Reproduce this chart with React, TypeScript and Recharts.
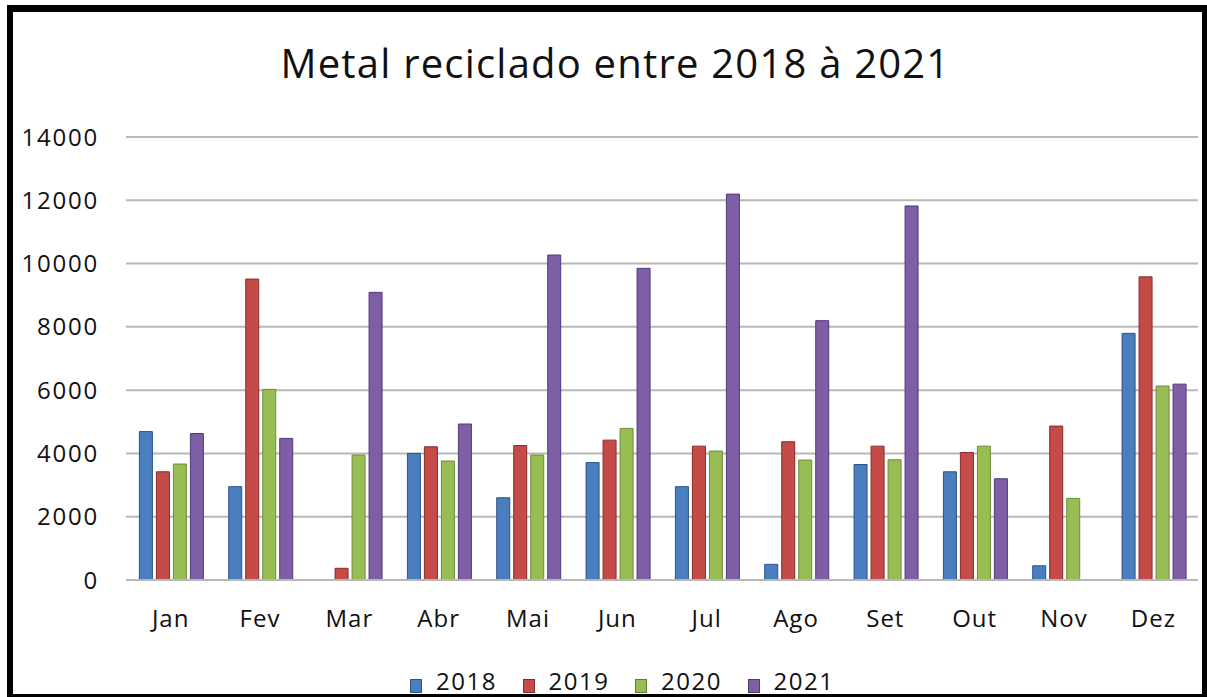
import React from "react";
import { BarChart, Bar, XAxis, YAxis, CartesianGrid, Legend } from "recharts";

const months = ["Jan", "Fev", "Mar", "Abr", "Mai", "Jun", "Jul", "Ago", "Set", "Out", "Nov", "Dez"];
const y2018 = [4690, 2950, 0, 4000, 2600, 3710, 2950, 495, 3650, 3420, 450, 7795];
const y2019 = [3420, 9510, 370, 4210, 4250, 4420, 4230, 4370, 4230, 4030, 4865, 9580];
const y2020 = [3665, 6025, 3950, 3760, 3950, 4790, 4075, 3790, 3800, 4230, 2580, 6130];
const y2021 = [4630, 4475, 9090, 4930, 10270, 9850, 12195, 8195, 11820, 3200, 0, 6190];
const yTicks = [0, 2000, 4000, 6000, 8000, 10000, 12000, 14000];
const title = "Metal reciclado entre 2018 à 2021";

const series = [
  { key: "2018", fill: "#4a7ebf", stroke: "#2b5587" },
  { key: "2019", fill: "#c44b47", stroke: "#8a2b28" },
  { key: "2020", fill: "#98bd55", stroke: "#6f8d3a" },
  { key: "2021", fill: "#7e5fa6", stroke: "#52387a" },
];

const data = months.map((m, i) => ({
  month: m,
  "2018": y2018[i],
  "2019": y2019[i],
  "2020": y2020[i],
  "2021": y2021[i],
}));

const FONT = "'Open Sans', sans-serif";

const renderLegend = (props: any) => {
  const payload = props.payload || [];
  return (
    <div style={{ position: "relative", height: 30, width: 1207 }}>
      {payload.map((p: any, i: number) => (
        <div
          key={p.value}
          style={{
            position: "absolute",
            left: 410 + i * 112.5,
            top: 0,
            display: "flex",
            alignItems: "center",
            height: 30,
          }}
        >
          <div style={{ width: 12, height: 14, background: p.color, border: "1px solid rgba(0,0,0,0.35)", boxSizing: "border-box", marginTop: 10 }} />
          <span style={{ marginLeft: 14, fontFamily: FONT, fontSize: 24, color: "#111", letterSpacing: 1.5, lineHeight: "30px" }}>{p.value}</span>
        </div>
      ))}
    </div>
  );
};

export default function App() {
  return (
    <div style={{ position: "absolute", left: 0, top: 0, width: 1207, height: 697, background: "#fff", overflow: "hidden", fontFamily: FONT }}>
      <BarChart
        width={1207}
        height={697}
        data={data}
        margin={{ top: 137, right: 9, left: 0, bottom: 47 }}
        barCategoryGap="15%"
        barGap={4}
      >
        <CartesianGrid horizontal vertical={false} stroke="#b8b8b8" strokeWidth={2} />
        <XAxis
          dataKey="month"
          height={40}
          tickLine={false}
          tickSize={0}
          tickMargin={30}
          axisLine={{ stroke: "#b8b8b8", strokeWidth: 2 }}
          tick={{ fill: "#111", fontSize: 24, fontFamily: FONT, letterSpacing: 1 }}
        />
        <YAxis
          width={126}
          domain={[0, 14000]}
          ticks={yTicks}
          interval={0}
          tickLine={false}
          tickSize={0}
          tickMargin={27}
          axisLine={false}
          tick={{ fill: "#111", fontSize: 24, fontFamily: FONT, letterSpacing: 1.8 }}
        />
        <Legend
          verticalAlign="bottom"
          content={renderLegend}
          wrapperStyle={{ top: 666, left: 0, height: 30, width: 1207 }}
        />
        {series.map((s) => (
          <Bar key={s.key} dataKey={s.key} fill={s.fill} stroke={s.stroke} strokeWidth={1} isAnimationActive={false} />
        ))}
      </BarChart>
      <div
        style={{
          position: "absolute",
          left: 0,
          width: 1231,
          top: 43,
          textAlign: "center",
          fontFamily: FONT,
          fontSize: 40,
          lineHeight: 1,
          color: "#111",
          letterSpacing: 1.2,
          whiteSpace: "nowrap",
        }}
      >
        {title}
      </div>
      <div
        style={{
          position: "absolute",
          left: 7,
          top: 5,
          width: 1200,
          height: 692,
          boxSizing: "border-box",
          borderLeft: "6px solid #000",
          borderTop: "7px solid #000",
          borderRight: "5px solid #000",
          borderBottom: "3px solid #000",
          pointerEvents: "none",
        }}
      />
    </div>
  );
}
